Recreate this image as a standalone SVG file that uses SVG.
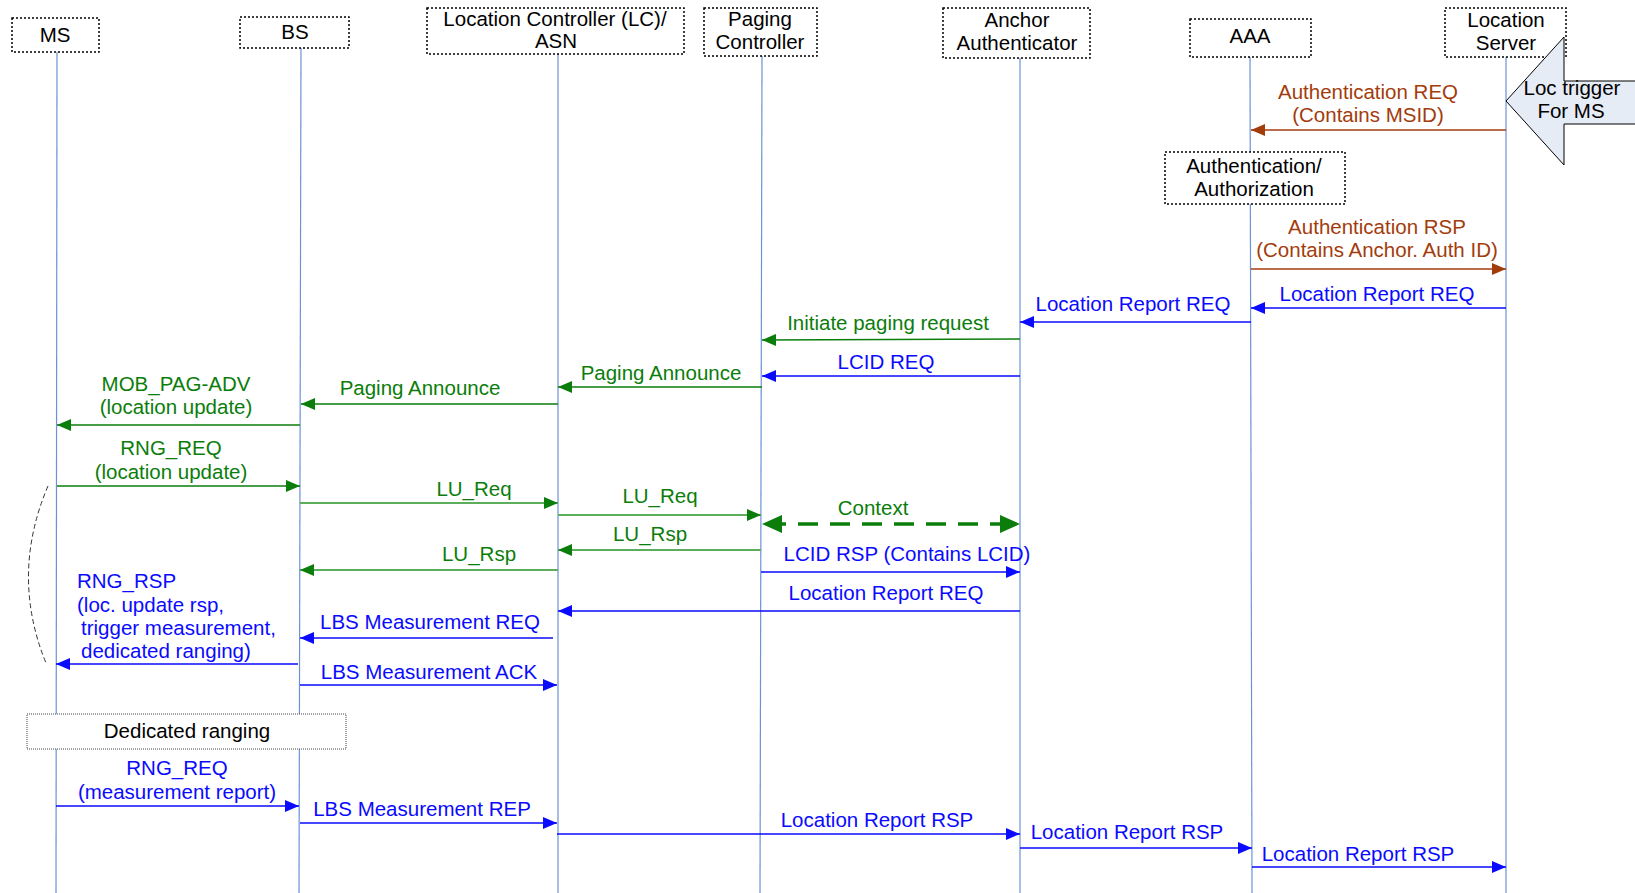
<svg xmlns="http://www.w3.org/2000/svg" width="1635" height="893" viewBox="0 0 1635 893">
  <style>
    text { font-family: "Liberation Sans", Arial, sans-serif; font-size: 20.5px; }
    .node text, .note text { fill: #000; text-anchor: middle; }
    .box { fill: #fff; stroke: #000; stroke-width: 1.5; stroke-dasharray: 2 2; }
    .fine { fill: #fff; stroke: #444; stroke-width: 1; stroke-dasharray: 1 1; }
    .life { stroke: #6b93d6; stroke-width: 1.2; fill: none; }
    .m { fill: none; stroke-width: 1.5; }
    .blue { stroke: #0a0aff; }
    .green { stroke: #0b7d0b; }
    .lgreen { stroke: #5cad5c; stroke-width: 2; }
    .brown { stroke: #a33c0b; }
    .tb { fill: #0a0aff; text-anchor: middle; }
    .tg { fill: #0b7d0b; text-anchor: middle; }
    .to { fill: #a33c0b; text-anchor: middle; }
  </style>
  <defs>
    <marker id="ah-blue" viewBox="0 0 14 12" refX="14" refY="6" markerWidth="14" markerHeight="12" markerUnits="userSpaceOnUse" orient="auto">
      <path d="M0,0 L14,6 L0,12 z" fill="#0a0aff"/>
    </marker>
    <marker id="ah-green" viewBox="0 0 14 12" refX="14" refY="6" markerWidth="14" markerHeight="12" markerUnits="userSpaceOnUse" orient="auto">
      <path d="M0,0 L14,6 L0,12 z" fill="#0b7d0b"/>
    </marker>
    <marker id="ah-brown" viewBox="0 0 14 12" refX="14" refY="6" markerWidth="14" markerHeight="12" markerUnits="userSpaceOnUse" orient="auto">
      <path d="M0,0 L14,6 L0,12 z" fill="#a33c0b"/>
    </marker>
    <marker id="ah-ctx" viewBox="0 0 20 18" refX="20" refY="9" markerWidth="20" markerHeight="18" markerUnits="userSpaceOnUse" orient="auto-start-reverse">
      <path d="M0,0 L20,9 L0,18 z" fill="#0b7d0b"/>
    </marker>
  </defs>

  <rect width="1635" height="893" fill="#fff"/>

  <!-- lifelines -->
  <g id="lifelines">
    <line class="life" x1="57" y1="52" x2="56" y2="893"/>
    <line class="life" x1="301" y1="48" x2="299" y2="893"/>
    <line class="life" x1="558" y1="54" x2="558" y2="893"/>
    <line class="life" x1="762" y1="56" x2="760" y2="893"/>
    <line class="life" x1="1020" y1="58" x2="1020" y2="893"/>
    <line class="life" x1="1250" y1="57" x2="1252" y2="893"/>
    <line class="life" x1="1506" y1="57" x2="1506" y2="893"/>
  </g>

  <!-- participants -->
  <g id="ms" class="node">
    <rect class="box" x="12" y="18" width="87" height="34"/>
    <text x="55" y="42">MS</text>
  </g>
  <g id="bs" class="node">
    <rect class="box" x="240" y="17" width="109" height="31"/>
    <text x="295" y="39">BS</text>
  </g>
  <g id="lc" class="node">
    <rect class="box" x="427" y="8" width="257" height="46"/>
    <text x="555" y="26">Location Controller (LC)/</text>
    <text x="556" y="48">ASN</text>
  </g>
  <g id="pc" class="node">
    <rect class="box" x="704" y="8" width="113" height="48"/>
    <text x="760" y="26">Paging</text>
    <text x="760" y="49">Controller</text>
  </g>
  <g id="anchor" class="node">
    <rect class="box" x="943" y="8" width="147" height="50"/>
    <text x="1017" y="27">Anchor</text>
    <text x="1017" y="50">Authenticator</text>
  </g>
  <g id="aaa" class="node">
    <rect class="box" x="1190" y="19" width="121" height="38"/>
    <text x="1250" y="43">AAA</text>
  </g>
  <g id="ls" class="node">
    <rect class="box" x="1445" y="8" width="121" height="49"/>
    <text x="1506" y="27">Location</text>
    <text x="1506" y="50">Server</text>
  </g>

  <!-- trigger arrow entering the location server -->
  <g id="trigger" class="node">
    <path d="M1506,101 L1564,37 L1564,81 L1640,81 L1640,124 L1564,124 L1564,165 Z" fill="#e6ecf6" stroke="#000" stroke-width="1"/>
    <text x="1572" y="95">Loc trigger</text>
    <text x="1571" y="118">For MS</text>
  </g>

  <!-- processing notes -->
  <g id="authz" class="note">
    <rect class="box" x="1165" y="152" width="180" height="52"/>
    <text x="1254" y="173">Authentication/</text>
    <text x="1254" y="196">Authorization</text>
  </g>
  <g id="dedicated" class="note">
    <rect class="fine" x="27" y="714" width="319" height="35"/>
    <text x="187" y="738">Dedicated ranging</text>
  </g>

  <!-- messages -->
  <g id="connectors">
    <line class="m brown" x1="1506" y1="130" x2="1251" y2="130" marker-end="url(#ah-brown)"/>
    <text class="to" x="1368" y="99">Authentication REQ</text>
    <text class="to" x="1368" y="122">(Contains MSID)</text>

    <line class="m brown" x1="1251" y1="269" x2="1506" y2="269" marker-end="url(#ah-brown)"/>
    <text class="to" x="1377" y="234">Authentication RSP</text>
    <text class="to" x="1377" y="257">(Contains Anchor. Auth ID)</text>

    <line class="m blue" x1="1506" y1="308" x2="1251" y2="308" marker-end="url(#ah-blue)"/>
    <text class="tb" x="1377" y="301">Location Report REQ</text>

    <line class="m blue" x1="1251" y1="322" x2="1020" y2="322" marker-end="url(#ah-blue)"/>
    <text class="tb" x="1133" y="311">Location Report REQ</text>

    <line class="m green" x1="1020" y1="339" x2="762" y2="340" marker-end="url(#ah-green)"/>
    <text class="tg" x="888" y="330">Initiate paging request</text>

    <line class="m blue" x1="1020" y1="376" x2="762" y2="376" marker-end="url(#ah-blue)"/>
    <text class="tb" x="886" y="369">LCID REQ</text>

    <line class="m green" x1="762" y1="387" x2="558" y2="387" marker-end="url(#ah-green)"/>
    <text class="tg" x="661" y="380">Paging Announce</text>

    <line class="m green" x1="558" y1="404" x2="301" y2="404" marker-end="url(#ah-green)"/>
    <text class="tg" x="420" y="395">Paging Announce</text>

    <line class="m green" x1="300" y1="425" x2="57" y2="425" marker-end="url(#ah-green)"/>
    <text class="tg" x="176" y="391">MOB_PAG-ADV</text>
    <text class="tg" x="176" y="414">(location update)</text>

    <line class="m green" x1="57" y1="486" x2="300" y2="486" marker-end="url(#ah-green)"/>
    <text class="tg" x="171" y="455">RNG_REQ</text>
    <text class="tg" x="171" y="479">(location update)</text>

    <line class="m lgreen" x1="300" y1="503" x2="558" y2="503" marker-end="url(#ah-green)"/>
    <text class="tg" x="474" y="496">LU_Req</text>

    <line class="m lgreen" x1="558" y1="515" x2="761" y2="515" marker-end="url(#ah-green)"/>
    <text class="tg" x="660" y="503">LU_Req</text>

    <line x1="762" y1="524" x2="1020" y2="524" stroke="#0b7d0b" stroke-width="3.5" stroke-dasharray="20 12" stroke-dashoffset="-4" marker-start="url(#ah-ctx)" marker-end="url(#ah-ctx)"/>
    <text class="tg" x="873" y="515">Context</text>

    <line class="m lgreen" x1="761" y1="550" x2="558" y2="550" marker-end="url(#ah-green)"/>
    <text class="tg" x="650" y="541">LU_Rsp</text>

    <line class="m blue" x1="761" y1="572" x2="1020" y2="572" marker-end="url(#ah-blue)"/>
    <text class="tb" x="907" y="561">LCID RSP (Contains LCID)</text>

    <line class="m lgreen" x1="558" y1="570" x2="300" y2="570" marker-end="url(#ah-green)"/>
    <text class="tg" x="479" y="561">LU_Rsp</text>

    <line class="m blue" x1="1020" y1="611" x2="558" y2="611" marker-end="url(#ah-blue)"/>
    <text class="tb" x="886" y="600">Location Report REQ</text>

    <line class="m blue" x1="553" y1="638" x2="300" y2="638" marker-end="url(#ah-blue)"/>
    <text class="tb" x="430" y="629">LBS Measurement REQ</text>

    <line class="m blue" x1="298" y1="664" x2="56" y2="664" marker-end="url(#ah-blue)"/>
    <text class="tb" x="77" y="588" style="text-anchor:start">RNG_RSP</text>
    <text class="tb" x="77" y="612" style="text-anchor:start">(loc. update rsp,</text>
    <text class="tb" x="81" y="635" style="text-anchor:start">trigger measurement,</text>
    <text class="tb" x="81" y="658" style="text-anchor:start">dedicated ranging)</text>

    <path d="M48,486 Q10,575 46,663" fill="none" stroke="#333" stroke-width="1" stroke-dasharray="5 3"/>

    <line class="m blue" x1="300" y1="685" x2="557" y2="685" marker-end="url(#ah-blue)"/>
    <text class="tb" x="429" y="679">LBS Measurement ACK</text>

    <line class="m blue" x1="56" y1="806" x2="299" y2="806" marker-end="url(#ah-blue)"/>
    <text class="tb" x="177" y="775">RNG_REQ</text>
    <text class="tb" x="177" y="799">(measurement report)</text>

    <line class="m blue" x1="300" y1="823" x2="557" y2="823" marker-end="url(#ah-blue)"/>
    <text class="tb" x="422" y="816">LBS Measurement REP</text>

    <line class="m blue" x1="557" y1="834" x2="1020" y2="834" marker-end="url(#ah-blue)"/>
    <text class="tb" x="877" y="827">Location Report RSP</text>

    <line class="m blue" x1="1020" y1="848" x2="1252" y2="848" marker-end="url(#ah-blue)"/>
    <text class="tb" x="1127" y="839">Location Report RSP</text>

    <line class="m blue" x1="1252" y1="867" x2="1506" y2="867" marker-end="url(#ah-blue)"/>
    <text class="tb" x="1358" y="861">Location Report RSP</text>
  </g>
</svg>
